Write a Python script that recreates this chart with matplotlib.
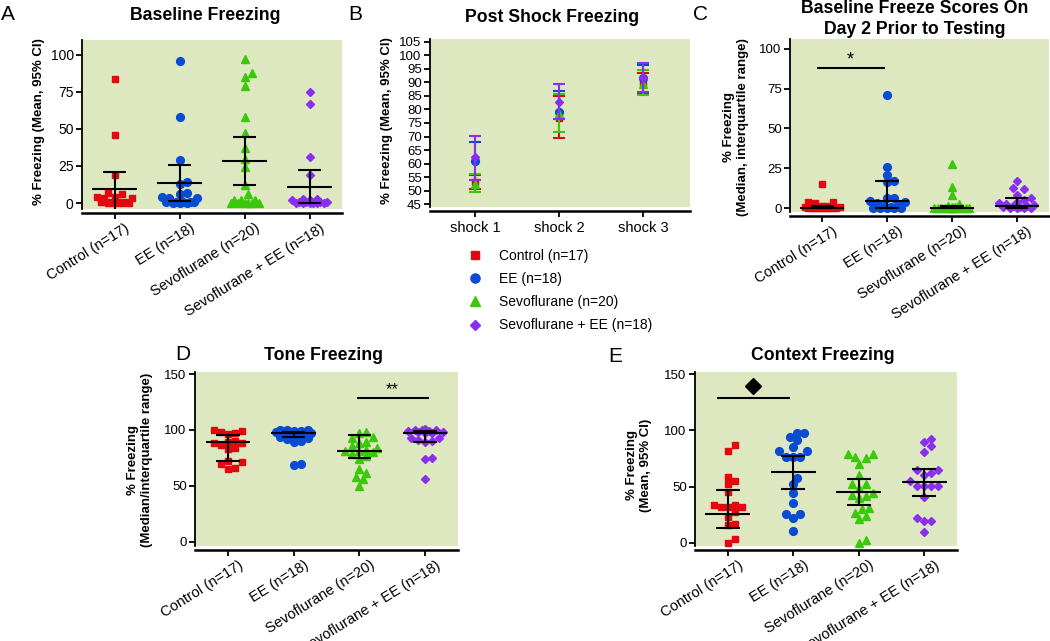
import numpy as np
import matplotlib
matplotlib.use('Agg')
import matplotlib.pyplot as plt
from matplotlib.lines import Line2D

plt.rcParams['font.family'] = ['Liberation Sans', 'DejaVu Sans']

W, H = 1050, 641
BG = '#dde8c0'
RED, BLUE, GREEN, PURPLE = '#e4070f', '#0a4bd4', '#3cc80a', '#8a2ef0'

groups = ['Control (n=17)', 'EE (n=18)', 'Sevoflurane (n=20)', 'Sevoflurane + EE (n=18)']
colors = [RED, BLUE, GREEN, PURPLE]
markers = ['s', 'o', '^', 'D']
msizes = [5.0, 5.6, 6.0, 4.4]

# A - baseline freezing (mean, 95% CI)
a_ctrl = [84, 46, 19, 7, 6, 4, 4, 3.5, 3.5, 1, 1, 0.5, 0.5, 0, 0, 0, 0]
a_ee = [96, 58, 29, 14, 13, 7, 6, 4, 3.5, 3.5, 1, 1, 1, 0.5, 0.5, 0, 0, 0]
a_sevo = [97, 88, 85, 79, 58, 47, 37, 30, 24, 12, 6, 2, 2, 2, 0, 0, 0, 0, 0, 0]
a_sevoee = [75, 67, 31, 19, 3, 3, 2, 2, 1, 1, 1, 0.5, 0, 0, 0, 0, 0, 0]
a_mean = [9.3, 13.5, 28.4, 10.7]
a_lo = [-6, 1.1, 12.2, -0.3]
a_hi = [20.8, 25.9, 44.8, 22.3]

# B - post shock freezing (mean, 95% CI)
shocks = ['shock 1', 'shock 2', 'shock 3']
b_mean = [[53.2, 77.0, 89.8], [61.0, 79.0, 91.6], [52.3, 78.2, 89.5], [62.3, 82.8, 91.6]]
b_lo = [[50.5, 69.4, 85.9], [54.0, 76.3, 85.7], [49.3, 71.8, 85.2], [53.8, 76.3, 86.3]]
b_hi = [[55.9, 84.9, 93.4], [68.0, 86.7, 96.5], [56.2, 85.9, 94.6], [70.1, 89.4, 97.1]]

# C - baseline day 2 (median, IQR)
c_ctrl = [15, 4, 3.5, 3, 1, 1, 0.5, 0.5, 0, 0, 0, 0, 0, 0, 0, 0, 0]
c_ee = [71, 26, 21, 17, 16.5, 6, 6, 4.5, 4, 3, 2, 1, 0.5, 0, 0, 0, 0, 0]
c_sevo = [27.5, 13.5, 8, 2.5, 1, 0.5, 0.5, 0, 0, 0, 0, 0, 0, 0, 0, 0, 0, 0, 0, 0]
c_sevoee = [17, 12.5, 12, 8.5, 6, 5, 4, 3, 2.5, 2, 1.5, 1, 0.5, 0.5, 0, 0, 0, 0]
c_med = [0, 4.4, 0, 1.5]
c_q1 = [0, 0, 0, 0]
c_q3 = [1.5, 16.7, 1.2, 6.5]

# D - tone freezing (median, IQR)
d_ctrl = [100, 99, 98, 97, 96, 90, 89, 88, 88, 87, 84, 83, 72, 71, 70, 66, 65]
d_ee = [100, 100, 100, 99.5, 99, 98, 97, 97, 96, 95, 94, 94, 93, 92, 90, 89, 70, 69]
d_sevo = [98, 97, 94, 93, 89, 88, 86, 84, 82, 81, 81, 80, 79, 77, 74, 65, 62, 58, 56, 50]
d_sevoee = [101, 100, 100, 100, 99, 99, 98, 98, 97, 97, 93, 93, 91, 90, 89, 75, 74, 56]
d_med = [89, 97, 81.4, 97.6]
d_q1 = [72.2, 93.8, 75.4, 89.3]
d_q3 = [95.3, 98.2, 95.6, 99]

# E - context freezing (mean, 95% CI)
e_ctrl = [86.7, 81.7, 58.6, 55, 52, 45.3, 33.7, 33.7, 32, 32, 32, 27.5, 23.4, 17, 15.7, 3.8, 0.3]
e_ee = [97.3, 97.3, 94.4, 91, 85.5, 81.7, 81.7, 76.6, 76.6, 76.6, 58, 52, 44.7, 35.8, 25.4, 25.4, 21.9, 10.7]
e_sevo = [79, 79, 76, 75, 70, 60, 52.7, 52.7, 48.5, 44, 43, 41.7, 39.6, 31.4, 30, 27, 24, 21.6, 2.4, 0.3]
e_sevoee = [92.6, 89.6, 86, 80.8, 64.8, 64.8, 62.4, 60, 55, 50.6, 50.6, 50.6, 50.6, 40.8, 21.9, 19.5, 19.5, 10]
e_mean = [25.4, 63, 45.3, 54]
e_lo = [13.6, 48.2, 34, 41.7]
e_hi = [47.3, 77.2, 56.5, 66]

fig = plt.figure(figsize=(W / 100, H / 100), dpi=100)


def make_ax(x0, x1, y0, y1, ylim, yticks, xlim=(-0.5, 3.5), ysize=9.5):
    ax = fig.add_axes([x0 / W, 1 - y1 / H, (x1 - x0) / W, (y1 - y0) / H])
    ax.set_facecolor(BG)
    ax.set_xlim(*xlim)
    ax.set_ylim(*ylim)
    ax.set_yticks(yticks)
    for s in ['top', 'right']:
        ax.spines[s].set_visible(False)
    ax.spines['bottom'].set_position(('outward', 3))
    ax.spines['left'].set_linewidth(1.3)
    ax.spines['bottom'].set_linewidth(1.8)
    ax.tick_params(direction='out', length=4, width=1.3, labelsize=ysize, pad=2)
    return ax


def swarm_x(ax, xc, vals, d=7.0, maxw=18.0):
    # beeswarm in pixel space, squeezed into +-maxw like prism does
    tr = ax.transData
    ypx = tr.transform(np.column_stack([np.full(len(vals), xc), vals]))[:, 1]
    sx = tr.transform((1, 0))[0] - tr.transform((0, 0))[0]
    step = d / 2
    cands = [0.0]
    k = 1
    while k * step <= maxw:
        cands += [k * step, -k * step]
        k += 1
    placed = []
    offs = np.zeros(len(vals))
    for i in np.argsort(ypx, kind='stable'):
        best, best_d = 0.0, -1.0
        for c in cands:
            md = min([np.hypot(c - px, ypx[i] - py) for px, py in placed] + [1e9])
            if md >= d:
                best = c
                break
            if md > best_d:
                best, best_d = c, md
        offs[i] = best
        placed.append((best, ypx[i]))
    return xc + offs / sx


def dot_panel(ax, data, center, lo, hi):
    x = np.arange(len(data))
    for i, vals in enumerate(data):
        xs = swarm_x(ax, i, vals)
        ax.plot(xs, vals, ls='none', marker=markers[i], ms=msizes[i], color=colors[i],
                mec=colors[i], zorder=2, clip_on=False)
    ax.vlines(x, lo, hi, color='k', lw=1.5, zorder=4)
    ax.hlines(center, x - 0.34, x + 0.34, color='k', lw=1.5, zorder=4)
    ax.hlines(lo, x - 0.18, x + 0.18, color='k', lw=1.5, zorder=4)
    ax.hlines(hi, x - 0.18, x + 0.18, color='k', lw=1.5, zorder=4)


def rot_labels(ax, labels, size=10.5):
    ax.set_xticks(range(len(labels)))
    ax.set_xticklabels([])
    for i, lab in enumerate(labels):
        ax.annotate(lab, xy=(i, 0), xycoords=ax.get_xaxis_transform(), xytext=(14, -18),
                    textcoords='offset pixels', rotation=32, rotation_mode='anchor',
                    ha='right', va='center', fontsize=size)


def ftext(x, y, s, **kw):
    return fig.text(x / W, 1 - y / H, s, ha='center', va='center', **kw)


TF = dict(fontweight='bold')

# panel A
axA = make_ax(82, 342, 40, 209, (-4.05, 110.1), [0, 25, 50, 75, 100], ysize=10)
dot_panel(axA, [a_ctrl, a_ee, a_sevo, a_sevoee], a_mean, a_lo, a_hi)
rot_labels(axA, groups)

# panel B
axB = make_ax(430, 690, 39, 207, (43.9, 106.1), list(range(45, 106, 5)), xlim=(-0.54, 2.56))
for i in range(4):
    m = np.array(b_mean[i])
    axB.errorbar(range(3), m, yerr=[m - np.array(b_lo[i]), np.array(b_hi[i]) - m],
                 fmt=markers[i], ms=msizes[i], color=colors[i], ecolor=colors[i],
                 elinewidth=1.5, capsize=4, capthick=1.5, zorder=3 + i)
axB.set_xticks(range(3))
axB.set_xticklabels([])
for i, lab in enumerate(shocks):
    axB.annotate(lab, xy=(i, 0), xycoords=axB.get_xaxis_transform(), xytext=(0, -21),
                 textcoords='offset pixels', ha='center', va='center', fontsize=10.5)

# panel C
axC = make_ax(790, 1049, 39, 212, (-2.5, 106.25), [0, 25, 50, 75, 100])
dot_panel(axC, [c_ctrl, c_ee, c_sevo, c_sevoee], c_med, c_q1, c_q3)
rot_labels(axC, groups)
axC.hlines(88, -0.08, 0.97, color='k', lw=1.5)
axC.text(0.43, 93, '*', ha='center', va='center', fontsize=13)

# panel D
axD = make_ax(195, 458, 372, 546, (-3.6, 151.8), [0, 50, 100, 150])
dot_panel(axD, [d_ctrl, d_ee, d_sevo, d_sevoee], d_med, d_q1, d_q3)
rot_labels(axD, groups)
axD.hlines(129, 1.97, 3.06, color='k', lw=1.5)
axD.text(2.5, 136, '**', ha='center', va='center', fontsize=12)

# panel E
axE = make_ax(695, 957, 372, 546, (-2.7, 151.8), [0, 50, 100, 150])
dot_panel(axE, [e_ctrl, e_ee, e_sevo, e_sevoee], e_mean, e_lo, e_hi)
rot_labels(axE, groups)
axE.hlines(129, -0.17, 0.95, color='k', lw=1.5)
axE.plot([0.39], [139], marker='D', ms=8, color='k', ls='none', clip_on=False)

# y labels
ftext(39, 122, '% Freezing (Mean, 95% CI)', rotation=90, fontsize=9.5, **TF)
ftext(387, 121, '% Freezing (Mean, 95% CI)', rotation=90, fontsize=9.5, **TF)
ftext(736, 127, '% Freezing\n(Median, interquartile range)', rotation=90, fontsize=9.5,
      multialignment='center', **TF)
ftext(140, 460, '% Freezing\n(Median/interquartile range)', rotation=90, fontsize=9.5,
      multialignment='center', **TF)
ftext(639, 465, '% Freezing\n(Mean, 95% CI)', rotation=90, fontsize=9.5,
      multialignment='center', **TF)

# titles
ftext(205, 15, 'Baseline Freezing', fontsize=12.7, **TF)
ftext(552, 17, 'Post Shock Freezing', fontsize=12.7, **TF)
ftext(915, 19, 'Baseline Freeze Scores On\nDay 2 Prior to Testing', fontsize=12.7,
      multialignment='center', linespacing=1.35, **TF)
ftext(324, 356, 'Tone Freezing', fontsize=12.7, **TF)
ftext(823, 356, 'Context Freezing', fontsize=12.7, **TF)

# panel letters
for lab, (x, y) in zip('ABCDE', [(8, 15), (355, 15), (700, 14), (183, 355), (615, 357)]):
    ftext(x, y, lab, fontsize=15)

# legend
handles = [Line2D([], [], ls='none', marker=markers[i], ms=msizes[i] + 1, color=colors[i])
           for i in range(4)]
fig.legend(handles, groups, loc='upper left', bbox_to_anchor=(468 / W, 1 - 249 / H),
           frameon=False, prop={'size': 10},
           handlelength=1.0, handletextpad=1.2, labelspacing=0.66, borderpad=0,
           borderaxespad=0)

fig.savefig('out.png', dpi=100)
